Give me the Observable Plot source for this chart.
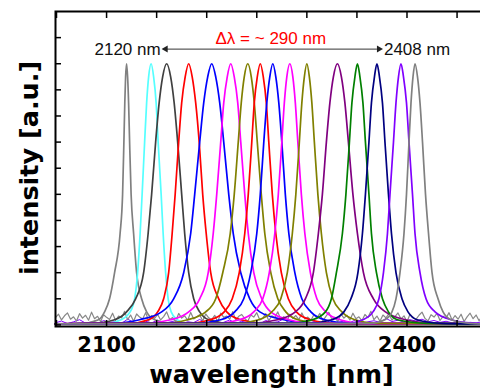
<!DOCTYPE html>
<html><head><meta charset="utf-8">
<script src="https://cdn.jsdelivr.net/npm/d3@7"></script>
<script src="https://cdn.jsdelivr.net/npm/@observablehq/plot@0.6"></script>
<style>
html,body{margin:0;padding:0;overflow:hidden;background:#fff;}
#chart svg{max-width:none !important;}
</style></head><body><div id="chart"></div>
<script>
// intensity levels shared by every spectrum (left foot -> peak -> right foot)
const levels = [0.004, 0.006, 0.02, 0.05, 0.1, 0.2, 0.35, 0.5, 0.7, 0.85, 0.95, 1, 0.95, 0.85, 0.7, 0.5, 0.35, 0.2, 0.1, 0.05, 0.02, 0.006, 0.004];

const seriesNames = ["2120","2144","2160","2182","2205","2224","2241","2253","2266","2283","2300","2330","2350","2370","2394","2408"];
const seriesColors = ["#808080","#55ffff","#404040","#ff0000","#0000ff","#ff00ff","#808000","#ff0000","#0000ff","#ff00ff","#808000","#800080","#008000","#000080","#8000ff","#808080"];

// wavelength (nm) at which each spectrum crosses the levels above
const x2120 = [2049,2075,2092,2098,2103,2108,2113.5,2116,2117.3,2118.2,2119,2120,2121,2122,2123,2124.5,2127,2130,2135,2140,2148,2165,2476];
const x2144 = [2049,2099.5,2114.5,2123.5,2128,2131,2133.5,2135.5,2138,2140,2142,2144.5,2147,2149.5,2151.5,2154.5,2156.5,2159,2161.5,2164.5,2170.5,2179.5,2476];
const x2160 = [2049,2085,2108,2120,2129,2137,2141.5,2145,2149,2152.5,2156,2160,2164,2167.5,2171,2175,2178,2182,2187,2193,2202,2225,2476];
const x2182 = [2049,2122,2142,2151,2157,2162,2165.5,2168.5,2172,2175,2178.5,2182,2185.5,2189,2192.5,2196,2199.5,2204,2212,2220,2234,2262,2476];
const x2205 = [2049,2105,2133,2155,2167,2177,2184,2188,2193,2197,2201,2205,2209,2213,2217,2222,2226.5,2234,2243,2253,2277,2305,2476];
const x2224 = [2049,2134,2164,2182,2193,2201.5,2206.5,2210,2214,2217,2220.5,2224,2227.5,2231,2234,2238,2241.5,2247,2255,2264,2282,2309,2476];
const x2241 = [2049,2156,2181,2199,2209,2216,2223.5,2227.5,2231.5,2234.5,2237.5,2241,2244.5,2247.5,2250.5,2254.5,2258,2264,2271,2279,2291,2316,2476];
const x2253 = [2049,2178.5,2203.5,2217.5,2225.5,2232.5,2238,2241.5,2245,2247.5,2250.5,2253.5,2256.5,2259.5,2262,2265.5,2269,2274.5,2281.5,2289.5,2303.5,2328.5,2476];
const x2266 = [2049,2186,2214,2228,2237,2244,2250,2253.5,2257,2260,2263,2266,2269,2272,2275,2278.5,2282,2288,2295,2304,2318,2346,2476];
const x2283 = [2049,2208,2233,2247,2256,2262.5,2268,2271.5,2275,2277.5,2280,2283,2286,2288.5,2291,2294.5,2298,2303.5,2310,2319,2333,2358,2476];
const x2300 = [2049,2228,2252,2265,2274,2280.5,2285.5,2289,2292.5,2295,2297.5,2300,2302.5,2305,2307.5,2311,2314.5,2319.5,2326,2335,2348,2372,2476];
const x2330 = [2049,2240.5,2270.5,2288.5,2298.5,2306.5,2311.5,2315.5,2319.5,2323,2326.5,2330.5,2334.5,2338,2341.5,2346,2350.5,2356.5,2366.5,2378.5,2398.5,2430.5,2476];
const x2350 = [2049,2280.5,2305.5,2318.5,2324.5,2329.5,2335.5,2339,2342.5,2345,2348,2350.5,2353,2356,2358.5,2362,2364.5,2369.5,2375.5,2381.5,2390.5,2420.5,2476];
const x2370 = [2049,2300,2325,2337,2344,2351,2355.5,2358.5,2362,2364.5,2367.5,2370,2372.5,2375.5,2378,2381.5,2384.5,2389,2395,2401,2410,2435,2476];
const x2394 = [2049,2339,2356,2366,2372,2376.5,2380.5,2383,2386.5,2389,2391.5,2394,2396.5,2399.5,2402,2405.5,2408,2413,2419,2428,2444,2469,2476];
const x2408 = [2049,2363,2378,2385,2389,2393,2397,2399.5,2402,2404,2406,2408,2410.5,2413,2415.5,2418.5,2421.5,2425,2431,2436,2444,2463,2476];
const seriesX = [x2120,x2144,x2160,x2182,x2205,x2224,x2241,x2253,x2266,x2283,x2300,x2330,x2350,x2370,x2394,x2408];

// noisy baselines, sampled on a regular wavelength grid
const noiseStart = 2049;
const grayNoiseStep = 3;
const grayNoise = [
0.028,0.041,0.019,0.035,0.046,0.022,0.031,0.015,0.043,0.026,
0.037,0.018,0.049,0.024,0.033,0.012,0.039,0.029,0.021,0.045,
0.017,0.034,0.027,0.052,0.02,0.038,0.014,0.042,0.03,0.023,
0.047,0.016,0.036,0.025,0.04,0.019,0.032,0.05,0.021,0.028,
0.013,0.044,0.026,0.035,0.018,0.048,0.023,0.031,0.039,0.015,
0.042,0.027,0.02,0.037,0.011,0.045,0.029,0.034,0.022,0.051,
0.018,0.033,0.04,0.024,0.014,0.038,0.03,0.047,0.019,0.026,
0.043,0.016,0.035,0.028,0.05,0.021,0.032,0.012,0.041,0.025,
0.036,0.02,0.046,0.023,0.03,0.017,0.039,0.027,0.044,0.015,
0.033,0.048,0.022,0.029,0.013,0.042,0.026,0.037,0.019,0.045,
0.024,0.031,0.016,0.04,0.028,0.052,0.02,0.034,0.014,0.038,
0.027,0.043,0.018,0.032,0.046,0.023,0.035,0.012,0.041,0.029,
0.021,0.037,0.049,0.025,0.015,0.039,0.03,0.044,0.017,0.033,
0.026,0.047,0.019,0.036,0.022,0.041,0.013,0.031,0.045,0.024,
0.038,0.016,0.034,0.028,0.05,0.02,0.032,0.042,0.018,0.027,
0.035];
const violetNoiseStep = 6;
const violetNoise = [
0.008,0.015,0.005,0.012,0.02,0.007,0.011,0.004,0.017,0.009,
0.013,0.006,0.022,0.01,0.005,0.014,0.008,0.018,0.006,0.011,
0.016,0.004,0.012,0.009,0.021,0.007,0.013,0.005,0.01,0.019,
0.006,0.014,0.008,0.011,0.004,0.017,0.009,0.012,0.023,0.007,
0.01,0.015,0.005,0.013,0.008,0.018,0.006,0.011,0.014,0.009,
0.02,0.007,0.012,0.016,0.01,0.025,0.013,0.018,0.011,0.02,
0.015,0.022,0.012,0.017,0.01,0.014,0.008,0.012,0.006,0.01,
0.008,0.012,0.006,0.009];

const xTicks = [2100, 2200, 2300, 2400];
const xMinorTicks = [2050, 2100, 2150, 2200, 2250, 2300, 2350, 2400, 2450];
const yTicks = [0, 0.1, 0.2, 0.3, 0.4, 0.5, 0.6, 0.7, 0.8, 0.9, 1.0, 1.1];
const annotLeft = "2120 nm";
const annotRight = "2408 nm";
const annotSpan = "\u0394\u03bb = ~ 290 nm";
const xLabel = "wavelength [nm]";
const yLabel = "intensity [a.u.]";

const rows = [];
seriesNames.forEach((name, i) => {
  seriesX[i].forEach((x, j) => rows.push({series: name, x, y: levels[j]}));
});
const grayRows = grayNoise.map((y, i) => ({x: noiseStart + i * grayNoiseStep, y}));
const violetRows = violetNoise.map((y, i) => ({x: noiseStart + i * violetNoiseStep, y}));

const bold = {fontFamily: "DejaVu Sans", fontWeight: "bold"};
const chart = Plot.plot({
  width: 486, height: 391,
  marginLeft: 55, marginRight: 3, marginTop: 11, marginBottom: 65,
  style: {maxWidth: "none", background: "#fff", overflow: "visible"},
  x: {domain: [2049, 2476.4]},
  y: {domain: [-0.006, 1.2]},
  color: {domain: seriesNames, range: seriesColors},
  marks: [
    Plot.line(violetRows, {x: "x", y: "y", stroke: "#8000ff", strokeWidth: 1}),
    Plot.line(grayRows, {x: "x", y: "y", stroke: "#888888", strokeWidth: 1.2}),
    Plot.line(rows, {x: "x", y: "y", z: "series", stroke: "series", curve: "monotone-x", strokeWidth: 1.7}),
    Plot.axisY({ticks: yTicks, tickSize: -6, tickFormat: () => "", label: null, strokeWidth: 1.5}),
    Plot.axisX({anchor: "top", ticks: xMinorTicks, tickSize: -6, tickFormat: () => "", label: null, strokeWidth: 1.5}),
    Plot.axisX({anchor: "bottom", ticks: xMinorTicks, tickSize: -6, tickFormat: () => "", label: null, strokeWidth: 1.5}),
    Plot.axisX({anchor: "bottom", ticks: xTicks, tickSize: 0, tickPadding: 10.5, tickFormat: d => String(d), label: null, fontSize: 21, ...bold, fill: "#000"}),
    Plot.frame({stroke: "#000", strokeWidth: 2}),
    Plot.link([annotSpan], {x1: 2160, x2: 2370, y1: 1.056, y2: 1.056, stroke: "#333", strokeWidth: 1}),
    Plot.dot([annotLeft], {x: 2159, y: 1.056, symbol: "triangle", rotate: -90, r: 2.6, fill: "#222", stroke: "none"}),
    Plot.dot([annotRight], {x: 2372, y: 1.056, symbol: "triangle", rotate: 90, r: 2.6, fill: "#222", stroke: "none"}),
    Plot.text([annotLeft], {x: 2154, y: 1.034, text: d => d, textAnchor: "end", lineAnchor: "bottom", fontSize: 17, fontFamily: "Liberation Sans", fill: "#111"}),
    Plot.text([annotRight], {x: 2377, y: 1.034, text: d => d, textAnchor: "start", lineAnchor: "bottom", fontSize: 17, fontFamily: "Liberation Sans", fill: "#111"}),
    Plot.text([annotSpan], {x: 2264, y: 1.077, text: d => d, textAnchor: "middle", lineAnchor: "bottom", fontSize: 17, fontFamily: "Liberation Sans", fill: "#ff0000"}),
    Plot.text([xLabel], {frameAnchor: "bottom", text: d => d, textAnchor: "middle", dx: 2, dy: 56, lineAnchor: "bottom", fontSize: 25.5, ...bold, fill: "#000"}),
    Plot.text([yLabel], {frameAnchor: "left", text: d => d, textAnchor: "middle", dx: -17.5, dy: -1, rotate: -90, lineAnchor: "bottom", fontSize: 25.5, ...bold, fill: "#000"})
  ]
});
document.getElementById("chart").appendChild(chart);
</script></body></html>
